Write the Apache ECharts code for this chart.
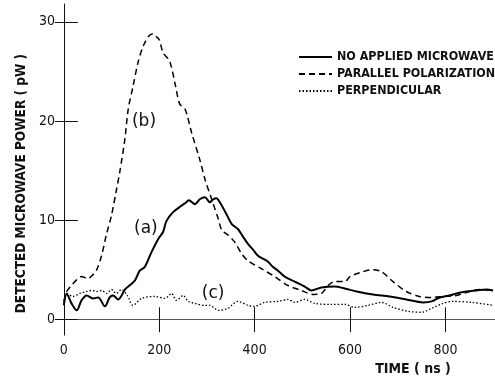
<!DOCTYPE html>
<html lang="en">
<head>
    <meta charset="UTF-8">
    <title>Detected microwave power</title>
    <script src="https://cdn.jsdelivr.net/npm/echarts@6/dist/echarts.min.js"></script>
</head>
<body style="margin:0;background:#fff;">
<div id="chart" style="width:495px;height:381px;"></div>
<script>
    // curve (a): no applied microwave
    var timeA = [0, 6, 16, 27, 37, 48, 61, 72, 86, 96, 103, 114, 121, 128, 140, 149, 159, 170, 184, 198, 208, 215, 229, 245, 257, 262, 275, 285, 296, 306, 313, 320, 327, 341, 352, 365, 376, 386, 397, 407, 418, 428, 438, 449, 463, 484, 505, 519, 540, 568, 589, 614, 648, 683, 718, 753, 771, 788, 809, 823, 844, 865, 886, 900];
    var powerA = [1.4, 2.6, 1.6, 0.9, 1.9, 2.4, 2.1, 2.2, 1.3, 2.2, 2.4, 2.0, 2.4, 3.0, 3.5, 3.9, 4.9, 5.3, 6.8, 8.1, 8.8, 9.9, 10.8, 11.4, 11.8, 12.0, 11.6, 12.1, 12.3, 11.8, 12.1, 12.2, 11.8, 10.6, 9.6, 9.1, 8.3, 7.6, 7.0, 6.4, 6.1, 5.8, 5.3, 4.9, 4.3, 3.8, 3.3, 2.9, 3.2, 3.3, 3.1, 2.8, 2.5, 2.3, 2.0, 1.7, 1.8, 2.2, 2.4, 2.6, 2.8, 2.9, 3.0, 2.9];
    // curve (b): parallel polarization
    var timeB = [0, 6, 16, 27, 37, 51, 57, 68, 79, 89, 100, 110, 117, 128, 135, 145, 156, 166, 177, 187, 194, 200, 208, 222, 233, 243, 254, 268, 285, 296, 310, 324, 331, 344, 358, 373, 386, 414, 442, 470, 498, 523, 540, 554, 568, 589, 600, 621, 648, 666, 690, 718, 746, 774, 795, 823, 844, 872, 900];
    var powerB = [1.8, 2.8, 3.4, 4.0, 4.3, 4.1, 4.3, 4.9, 6.4, 8.5, 10.5, 13.0, 14.8, 18.2, 21.2, 23.5, 26.0, 27.5, 28.5, 28.8, 28.5, 28.2, 26.9, 26.0, 23.8, 21.7, 21.2, 18.8, 16.1, 14.1, 12.1, 10.1, 9.0, 8.5, 7.8, 6.6, 5.9, 5.1, 4.3, 3.4, 2.9, 2.5, 2.6, 3.4, 3.8, 3.8, 4.3, 4.7, 5.0, 4.8, 3.8, 2.8, 2.3, 2.2, 2.3, 2.4, 2.7, 3.0, 2.9];
    // curve (c): perpendicular
    var timeC = [0, 6, 19, 34, 48, 58, 69, 79, 90, 100, 110, 121, 133, 145, 163, 191, 212, 226, 236, 250, 261, 275, 296, 306, 324, 344, 365, 386, 400, 421, 449, 470, 484, 505, 526, 561, 589, 610, 638, 666, 690, 722, 750, 771, 795, 813, 855, 900];
    var powerC = [1.6, 2.6, 2.3, 2.6, 2.8, 2.9, 2.8, 2.9, 2.6, 3.0, 2.6, 3.0, 2.4, 1.4, 2.1, 2.3, 2.1, 2.6, 1.9, 2.4, 1.8, 1.6, 1.4, 1.4, 0.9, 1.1, 1.8, 1.4, 1.3, 1.7, 1.8, 2.0, 1.7, 2.0, 1.6, 1.5, 1.5, 1.2, 1.4, 1.7, 1.2, 0.8, 0.7, 1.1, 1.6, 1.8, 1.7, 1.4];

    var seriesNames = ['NO APPLIED MICROWAVE', 'PARALLEL POLARIZATION', 'PERPENDICULAR'];
    var curveTags = ['(a)', '(b)', '(c)'];
    var tagTimes = [172, 168, 313];
    var tagPowers = [9.1, 19.9, 2.6];
    var xTicks = [0, 200, 400, 600, 800];
    var yTicks = [0, 10, 20, 30];

    var condensed = '"DejaVu Sans Condensed", "Liberation Sans Narrow", sans-serif';

    function pairs(t, v) {
        var out = [];
        for (var i = 0; i < t.length; i++) out.push([t[i], v[i]]);
        return out;
    }

    // curve tag placed at a data coordinate
    function tag(i) {
        return {
            symbol: 'circle', symbolSize: 1,
            itemStyle: {color: 'rgba(0,0,0,0)'},
            label: {show: true, position: 'inside', formatter: curveTags[i], color: '#111', fontSize: 17, fontFamily: 'DejaVu Sans'},
            data: [{coord: [tagTimes[i], tagPowers[i]]}]
        };
    }

    var myChart = echarts.init(document.getElementById('chart'));
    var option = {
        animation: false,
        backgroundColor: '#fff',
        grid: {left: 61, right: 0, top: 4, bottom: 44},
        legend: {
            orient: 'vertical', left: 298, top: 51, padding: 0,
            itemWidth: 33, itemHeight: 14, itemGap: 5,
            itemStyle: {opacity: 0},
            textStyle: {fontFamily: condensed, fontWeight: 'bold', fontSize: 12.4, color: '#111'},
            data: seriesNames
        },
        xAxis: [{
            type: 'value', min: -6, max: 904, position: 'bottom',
            name: 'TIME ( ns )', nameLocation: 'middle', nameGap: 26,
            nameTextStyle: {fontFamily: condensed, fontWeight: 'bold', fontSize: 14, color: '#111', padding: [0, 0, 0, 270]},
            axisLine: {show: true, lineStyle: {color: '#333', width: 1}},
            axisTick: {show: true, inside: true, length: 12, customValues: xTicks, lineStyle: {color: '#111'}},
            axisLabel: {customValues: xTicks, margin: 8, fontFamily: condensed, fontSize: 14, color: '#111'},
            splitLine: {show: false}
        }, {
            type: 'value', min: -6, max: 904, position: 'top',
            axisLine: {show: true, lineStyle: {color: '#555', width: 1}},
            axisTick: {show: true, inside: true, length: 13, customValues: xTicks, lineStyle: {color: '#111'}},
            axisLabel: {show: false},
            splitLine: {show: false}
        }],
        yAxis: [{
            type: 'value', min: -1.6, max: 31.8, position: 'left',
            name: 'DETECTED MICROWAVE POWER ( pW )', nameLocation: 'middle', nameGap: 31,
            nameTextStyle: {fontFamily: condensed, fontWeight: 'bold', fontSize: 13.5, color: '#111', padding: [0, 28, 0, 0]},
            axisLine: {show: true, lineStyle: {color: '#111', width: 1}},
            axisTick: {show: true, inside: true, length: 14, customValues: yTicks, lineStyle: {color: '#111'}},
            axisLabel: {customValues: yTicks, margin: 6, fontFamily: condensed, fontSize: 14, color: '#111'},
            splitLine: {show: false}
        }, {
            type: 'value', min: -1.6, max: 31.8, position: 'right',
            axisLine: {show: false},
            axisTick: {show: true, inside: true, length: 9, customValues: yTicks, lineStyle: {color: '#111'}},
            axisLabel: {show: false},
            splitLine: {show: false}
        }],
        series: [
            {
                name: seriesNames[0], type: 'line', showSymbol: false, symbol: 'none', smooth: 0.3,
                data: pairs(timeA, powerA),
                lineStyle: {color: '#000', width: 2, type: 'solid'},
                itemStyle: {color: '#000'},
                markPoint: tag(0)
            },
            {
                name: seriesNames[1], type: 'line', showSymbol: false, symbol: 'none', smooth: 0.3,
                data: pairs(timeB, powerB),
                lineStyle: {color: '#000', width: 1.5, type: [6, 4]},
                itemStyle: {color: '#000'},
                markPoint: tag(1)
            },
            {
                name: seriesNames[2], type: 'line', showSymbol: false, symbol: 'none', smooth: 0.3,
                data: pairs(timeC, powerC),
                lineStyle: {color: '#000', width: 1.3, type: [1.5, 2]},
                itemStyle: {color: '#000'},
                markPoint: tag(2)
            }
        ]
    };
    myChart.setOption(option);
</script>
</body>
</html>
